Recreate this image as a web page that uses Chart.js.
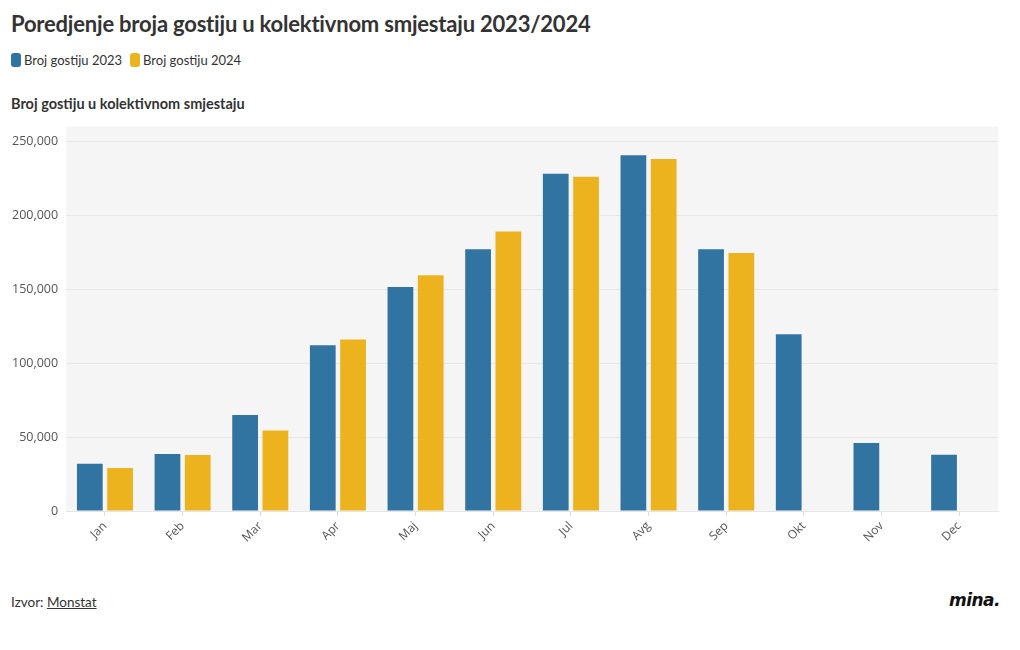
<!DOCTYPE html>
<html lang="sr">
<head>
    <meta charset="UTF-8">
    <title>Poredjenje broja gostiju u kolektivnom smjestaju 2023/2024</title>
    <script src="https://cdn.jsdelivr.net/npm/chart.js"></script>
    <style>
        body { margin: 0; width: 1020px; height: 650px; background: #fff; font-family: Lato, "Open Sans", sans-serif; color: #333; position: relative; overflow: hidden; }
        h1 { position: absolute; left: 11px; top: 10px; margin: 0; font-size: 22px; font-weight: 700; color: #333; letter-spacing: -0.2px; }
        .legenda { position: absolute; left: 11px; top: 52px; font-size: 13px; color: #333; display: flex; gap: 8px; }
        .legenda span.kv { display: inline-block; width: 10px; height: 14px; border-radius: 3px; vertical-align: -2px; margin-right: 3px; }
        h2 { position: absolute; left: 11px; top: 95px; margin: 0; font-size: 14.5px; font-weight: 700; color: #333; }
        .izvor { position: absolute; left: 11px; top: 594px; font-size: 13.5px; }
        .izvor a { color: #333; }
        .logo { position: absolute; right: 20px; top: 590px; font-family: "DejaVu Sans", sans-serif; font-size: 17px; font-weight: 900; font-style: italic; color: #111; letter-spacing: -0.5px; }
        #okvir { position: absolute; left: 0; top: 111px; width: 1020px; height: 437px; }
    </style>
</head>
<body>
    <h1>Poredjenje broja gostiju u kolektivnom smjestaju 2023/2024</h1>
    <div class="legenda">
        <div><span class="kv" style="background:#3174a1"></span>Broj gostiju 2023</div>
        <div><span class="kv" style="background:#ecb31f"></span>Broj gostiju 2024</div>
    </div>
    <h2>Broj gostiju u kolektivnom smjestaju</h2>
    <div id="okvir"><canvas id="grafik"></canvas></div>
    <div class="izvor">Izvor: <a href="#">Monstat</a></div>
    <div class="logo">mina.</div>

    <script>
        const mjeseci = ['Jan', 'Feb', 'Mar', 'Apr', 'Maj', 'Jun', 'Jul', 'Avg', 'Sep', 'Okt', 'Nov', 'Dec'];
        const gosti2023 = [32000, 38500, 65000, 112000, 151500, 177000, 228000, 240500, 177000, 119500, 46000, 38000];
        const gosti2024 = [29000, 37800, 54500, 116000, 159500, 189000, 226000, 238000, 174500, null, null, null];
        const yTicks = [0, 50000, 100000, 150000, 200000, 250000];

        // siva pozadina iza grafika
        const pozadina = {
            id: 'pozadina',
            beforeDraw(chart) {
                const { ctx, chartArea } = chart;
                ctx.save();
                ctx.fillStyle = '#f5f5f5';
                ctx.fillRect(chartArea.left, chartArea.top, chartArea.right - chartArea.left, chartArea.bottom - chartArea.top);
                ctx.restore();
            }
        };

        new Chart(document.getElementById('grafik'), {
            type: 'bar',
            data: {
                labels: mjeseci,
                datasets: [
                    { label: 'Broj gostiju 2023', data: gosti2023, backgroundColor: '#3174a1' },
                    { label: 'Broj gostiju 2024', data: gosti2024, backgroundColor: '#ecb31f' }
                ]
            },
            options: {
                responsive: true,
                maintainAspectRatio: false,
                animation: false,
                layout: { padding: { left: 4, right: 22, top: 8, bottom: 0 } },
                datasets: { bar: { categoryPercentage: 0.78, barPercentage: 0.85 } },
                plugins: { legend: { display: false }, tooltip: { enabled: false } },
                scales: {
                    x: {
                        grid: { offset: false, drawOnChartArea: false, drawTicks: true, tickLength: 5, color: '#dcdcdc' },
                        border: { color: '#e6e6e6' },
                        ticks: {
                            maxRotation: 45, minRotation: 45,
                            color: '#555',
                            font: { family: 'Open Sans', size: 12 }
                        }
                    },
                    y: {
                        min: 0,
                        max: 260000,
                        afterBuildTicks(axis) { axis.ticks = yTicks.map(v => ({ value: v })); },
                        grid: { color: '#e8e8e8', drawTicks: false },
                        border: { display: false },
                        ticks: {
                            padding: 8,
                            color: '#555',
                            font: { family: 'Open Sans', size: 12.5 },
                            callback: v => v.toLocaleString('en-US')
                        }
                    }
                }
            },
            plugins: [pozadina]
        });
    </script>
</body>
</html>
